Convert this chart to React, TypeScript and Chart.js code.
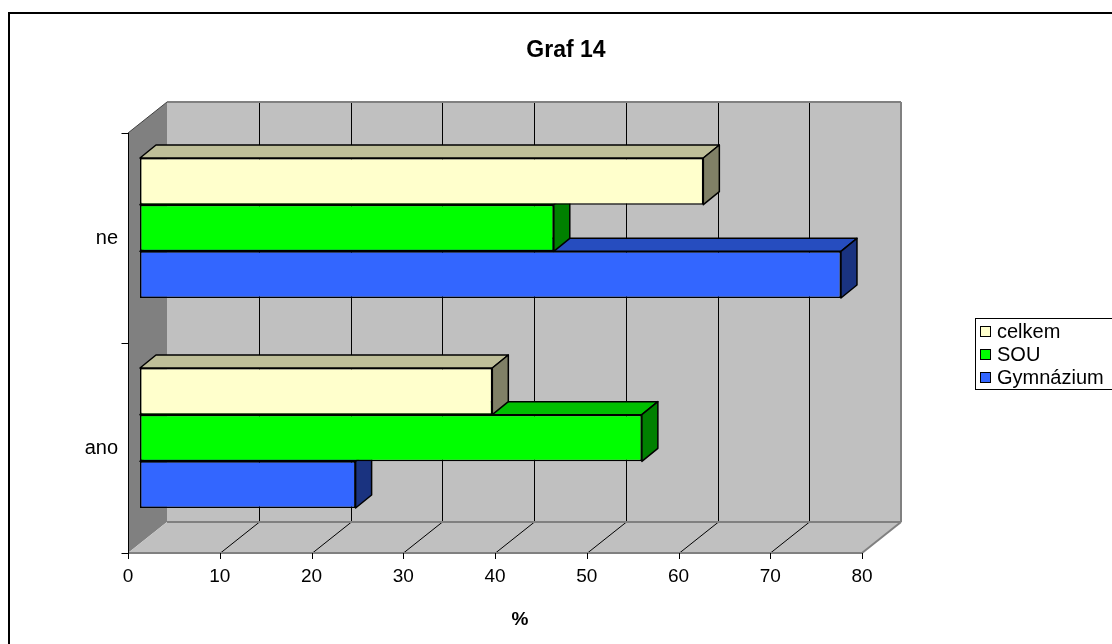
import React, { useEffect, useRef } from 'react';
import { Chart, registerables } from 'chart.js';

Chart.register(...registerables);

// ---- data ----
const categories = ['ne', 'ano'];
const seriesNames = ['celkem', 'SOU', 'Gymnázium'];
const celkemValues = [61.4, 38.4];
const souValues = [45.1, 54.7];
const gymnaziumValues = [76.4, 23.5];
const xTickValues = [0, 10, 20, 30, 40, 50, 60, 70, 80];
const seriesColors = ['#FFFFCC', '#00FF00', '#3366FF'];

const chartTitle = 'Graf 14';
const xAxisTitle = '%';

const FONT = '"Liberation Sans", Arial, Helvetica, sans-serif';
const W = 1112;
const H = 644;

// Oblique projection offsets, relative to the plane the bars stand in (the chart area)
const FRONT = { dx: -12, dy: 10 };
const BACK = { dx: 27, dy: -21 };
const BAR_DEPTH = { dx: 16, dy: -13 };

function shade(hex: string, f: number): string {
  const n = parseInt(hex.slice(1), 16);
  const r = Math.round(((n >> 16) & 255) * f);
  const g = Math.round(((n >> 8) & 255) * f);
  const b = Math.round((n & 255) * f);
  return `rgb(${r},${g},${b})`;
}

function poly(ctx: CanvasRenderingContext2D, pts: number[][], fill?: string, stroke?: string, lw = 1) {
  ctx.beginPath();
  ctx.moveTo(pts[0][0], pts[0][1]);
  for (let i = 1; i < pts.length; i++) ctx.lineTo(pts[i][0], pts[i][1]);
  ctx.closePath();
  if (fill) {
    ctx.fillStyle = fill;
    ctx.fill();
  }
  if (stroke) {
    ctx.strokeStyle = stroke;
    ctx.lineWidth = lw;
    ctx.stroke();
  }
}

function line(ctx: CanvasRenderingContext2D, x1: number, y1: number, x2: number, y2: number, color: string, lw = 1) {
  ctx.beginPath();
  ctx.moveTo(x1, y1);
  ctx.lineTo(x2, y2);
  ctx.strokeStyle = color;
  ctx.lineWidth = lw;
  ctx.stroke();
}

// Walls, floor, gridlines and front axes of the 3D box
const boxPlugin = {
  id: 'box3d',
  beforeDatasetsDraw(chart: any) {
    const { ctx, chartArea: a, scales } = chart;
    const xs = scales.x;
    const L = a.left, R = a.right, T = a.top, B = a.bottom;
    ctx.save();

    // back wall
    ctx.fillStyle = '#C0C0C0';
    ctx.fillRect(L + BACK.dx, T + BACK.dy, R - L, B - T);
    // left side wall
    poly(ctx, [
      [L + FRONT.dx, T + FRONT.dy],
      [L + BACK.dx, T + BACK.dy],
      [L + BACK.dx, B + BACK.dy],
      [L + FRONT.dx, B + FRONT.dy],
    ], '#808080');
    // floor
    poly(ctx, [
      [L + FRONT.dx, B + FRONT.dy],
      [R + FRONT.dx, B + FRONT.dy],
      [R + BACK.dx, B + BACK.dy],
      [L + BACK.dx, B + BACK.dy],
    ], '#C0C0C0');

    // gridlines on back wall and floor
    xTickValues.forEach((v) => {
      if (v === xTickValues[0] || v === xTickValues[xTickValues.length - 1]) return;
      const px = Math.round(xs.getPixelForValue(v)) + 0.5;
      line(ctx, px + BACK.dx, T + BACK.dy, px + BACK.dx, B + BACK.dy, '#000');
      line(ctx, px + FRONT.dx, B + FRONT.dy, px + BACK.dx, B + BACK.dy, '#000');
    });

    // box edges
    const edge = '#808080';
    line(ctx, L + BACK.dx, T + BACK.dy, R + BACK.dx, T + BACK.dy, edge, 2);
    line(ctx, R + BACK.dx, T + BACK.dy, R + BACK.dx, B + BACK.dy, edge, 2);
    line(ctx, L + BACK.dx, B + BACK.dy, R + BACK.dx, B + BACK.dy, edge, 2);
    line(ctx, R + FRONT.dx, B + FRONT.dy, R + BACK.dx, B + BACK.dy, edge, 2);
    line(ctx, L + FRONT.dx, B + FRONT.dy, R + FRONT.dx, B + FRONT.dy, edge, 2);
    line(ctx, L + FRONT.dx, T + FRONT.dy, L + BACK.dx, T + BACK.dy, '#404040', 1);

    // front value axis ticks
    xTickValues.forEach((v) => {
      const px = Math.round(xs.getPixelForValue(v)) + 0.5 + FRONT.dx;
      line(ctx, px, B + FRONT.dy, px, B + FRONT.dy + 6, '#000');
    });
    // front category axis line and ticks
    const ax = L + FRONT.dx + 0.5;
    line(ctx, ax, T + FRONT.dy, ax, B + FRONT.dy, '#000');
    const n = categories.length;
    for (let i = 0; i <= n; i++) {
      const ty = Math.round(T + ((B - T) * i) / n + FRONT.dy) + 0.5;
      line(ctx, ax - 7, ty, ax, ty, '#000');
    }
    ctx.restore();
  },
  // top and end faces of each bar, painted right after its front face
  afterDatasetDraw(chart: any, args: any) {
    const { ctx } = chart;
    const base = seriesColors[args.index];
    ctx.save();
    ctx.lineJoin = 'round';
    args.meta.data.forEach((bar: any) => {
      const p = bar.getProps(['x', 'y', 'base', 'height'], true);
      const left = Math.min(p.x, p.base);
      const right = Math.max(p.x, p.base);
      const top = p.y - p.height / 2;
      const bottom = p.y + p.height / 2;
      const { dx, dy } = BAR_DEPTH;
      poly(ctx, [[left, top], [right, top], [right + dx, top + dy], [left + dx, top + dy]], shade(base, 0.75), '#000', 1.5);
      poly(ctx, [[right, top], [right + dx, top + dy], [right + dx, bottom + dy], [right, bottom]], shade(base, 0.5), '#000', 1.5);
    });
    ctx.restore();
  },
  afterDraw(chart: any) {
    const { ctx } = chart;
    ctx.save();
    // outer frame
    ctx.strokeStyle = '#000';
    ctx.lineWidth = 2;
    ctx.strokeRect(9, 13, W + 20, H + 20);

    // chart title
    ctx.fillStyle = '#000';
    ctx.textAlign = 'center';
    ctx.textBaseline = 'middle';
    ctx.font = `bold 23px ${FONT}`;
    ctx.fillText(chartTitle, 566, 51);

    // value axis title
    ctx.font = `bold 19px ${FONT}`;
    ctx.fillText(xAxisTitle, 520, 620);

    // legend
    const lx = 975, ly = 318, lh = 71;
    ctx.lineWidth = 1;
    ctx.strokeStyle = '#000';
    ctx.strokeRect(lx + 0.5, ly + 0.5, W, lh);
    ctx.textAlign = 'left';
    ctx.font = `20px ${FONT}`;
    seriesNames.forEach((name, i) => {
      const cy = ly + 13 + i * 23;
      ctx.fillStyle = seriesColors[i];
      ctx.fillRect(lx + 5.5, cy - 4.5, 10, 10);
      ctx.strokeRect(lx + 5.5, cy - 4.5, 10, 10);
      ctx.fillStyle = '#000';
      ctx.fillText(name, lx + 22, cy + 1);
    });
    ctx.restore();
  },
};

export default function App() {
  const ref = useRef<HTMLCanvasElement | null>(null);

  useEffect(() => {
    const canvas = ref.current;
    if (!canvas) return;
    const valueSets = [celkemValues, souValues, gymnaziumValues];
    const chart = new Chart(canvas, {
      type: 'bar',
      data: {
        labels: categories,
        datasets: seriesNames.map((name, i) => ({
          label: name,
          data: valueSets[i],
          backgroundColor: seriesColors[i],
          borderColor: '#000',
          borderWidth: 1.5,
          borderSkipped: false,
          categoryPercentage: 2 / 3,
          barPercentage: 1,
          clip: false as any,
        })),
      },
      options: {
        indexAxis: 'y',
        responsive: false,
        animation: false,
        devicePixelRatio: 1,
        layout: { padding: { left: 0, top: 123, right: 238, bottom: 0 } },
        plugins: {
          legend: { display: false },
          title: { display: false },
          tooltip: { enabled: false },
        },
        scales: {
          x: {
            type: 'linear',
            min: 0,
            max: 80,
            grid: { display: false, drawTicks: false },
            border: { display: false },
            ticks: {
              stepSize: 10,
              color: '#000',
              font: { family: FONT, size: 19 },
              padding: 22,
              labelOffset: FRONT.dx,
            },
            afterFit: (s: any) => {
              s.height = 101;
            },
          },
          y: {
            type: 'category',
            grid: { display: false, drawTicks: false },
            border: { display: false },
            ticks: {
              color: '#000',
              font: { family: FONT, size: 20 },
              padding: 22,
              labelOffset: FRONT.dy,
            },
            afterFit: (s: any) => {
              s.width = 140;
            },
          },
        },
      },
      plugins: [boxPlugin],
    });
    return () => chart.destroy();
  }, []);

  return (
    <div style={{ position: 'fixed', left: 0, top: 0, width: W, height: H, background: '#fff' }}>
      <canvas ref={ref} width={W} height={H} style={{ display: 'block' }} />
    </div>
  );
}
